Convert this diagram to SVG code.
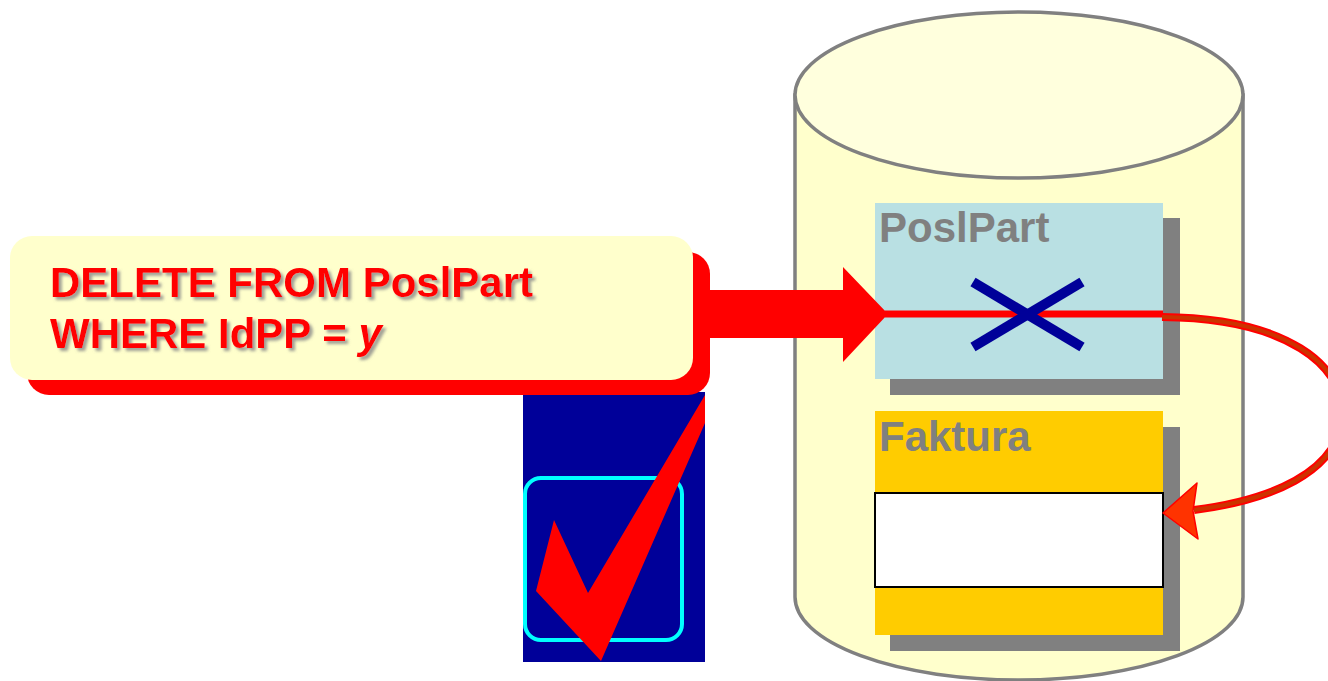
<svg xmlns="http://www.w3.org/2000/svg" width="1328" height="681" viewBox="0 0 1328 681">
  <defs>
    <style>
      .tbl { font-family: "Liberation Sans", Arial, sans-serif; font-weight: bold; font-size: 42px; fill: #808080; }
      .sql { font-family: "Liberation Sans", Arial, sans-serif; font-weight: bold; font-size: 42px; fill: #FF0000; }
      .shadow { fill: #808080; }
    </style>
    <filter id="tshadow" x="-5%" y="-20%" width="112%" height="150%">
      <feDropShadow dx="3" dy="3" stdDeviation="1.5" flood-color="#888888" flood-opacity="0.8"/>
    </filter>
  </defs>
  <rect width="1328" height="681" fill="#FFFFFF"/>

  <g id="database">
    <path d="M795,95 L795,597 A224,83 0 0 0 1243,597 L1243,95 Z" fill="#FFFFCC" stroke="#808080" stroke-width="3.5"/>
    <ellipse cx="1019" cy="95" rx="224" ry="83" fill="#FFFFDD" stroke="#808080" stroke-width="3.5"/>
  </g>

  <g id="poslpart">
    <rect class="shadow" x="890" y="218" width="290" height="177"/>
    <rect x="875" y="203" width="288" height="176" fill="#B9E0E3"/>
    <text class="tbl" x="879" y="242">PoslPart</text>
  </g>

  <g id="faktura">
    <rect class="shadow" x="890" y="427" width="290" height="224"/>
    <rect x="875" y="411" width="288" height="224" fill="#FFCC00"/>
    <text class="tbl" x="879" y="451">Faktura</text>
    <rect x="875" y="493" width="288" height="94" fill="#FFFFFF" stroke="#000000" stroke-width="2"/>
  </g>

  <g id="checkmark">
    <rect x="523" y="392" width="182" height="270" fill="#000099"/>
    <rect x="525" y="478" width="157" height="162" rx="16" ry="16" fill="none" stroke="#00FFFF" stroke-width="4"/>
    <polygon points="554,520 588,593 705,395 705,423 601,661 536,591" fill="#FF0000"/>
  </g>

  <g id="sql-callout">
    <rect x="27" y="252" width="683" height="143" rx="22" ry="22" fill="#FF0000"/>
    <rect x="10" y="236" width="683" height="144" rx="22" ry="22" fill="#FFFFCC"/>
    <g filter="url(#tshadow)">
      <text class="sql" x="50" y="297">DELETE FROM PoslPart</text>
      <text class="sql" x="50" y="348">WHERE IdPP = <tspan font-style="italic">y</tspan></text>
    </g>
  </g>

  <g id="connectors">
    <polygon points="705,290 843,290 843,267 888,314 843,362 843,338 705,338" fill="#FF0000"/>
    <line x1="885" y1="314" x2="1163" y2="314" stroke="#FF0000" stroke-width="7"/>
    <path d="M1162,317 C1285,318 1348,365 1342,420 C1336,472 1272,500 1194,510" fill="none" stroke="#FF0000" stroke-width="8"/>
    <path d="M1162,317 C1285,318 1348,365 1342,420 C1336,472 1272,500 1194,510" fill="none" stroke="#CC3300" stroke-width="4"/>
    <polygon points="1163,513 1197,483 1193,511 1198,539" fill="#FF3300" stroke="#FF0000" stroke-width="1.5" stroke-linejoin="round"/>
  </g>

  <g id="cross">
    <line x1="973" y1="282" x2="1082" y2="347" stroke="#000099" stroke-width="10"/>
    <line x1="973" y1="347" x2="1082" y2="282" stroke="#000099" stroke-width="10"/>
  </g>
</svg>
